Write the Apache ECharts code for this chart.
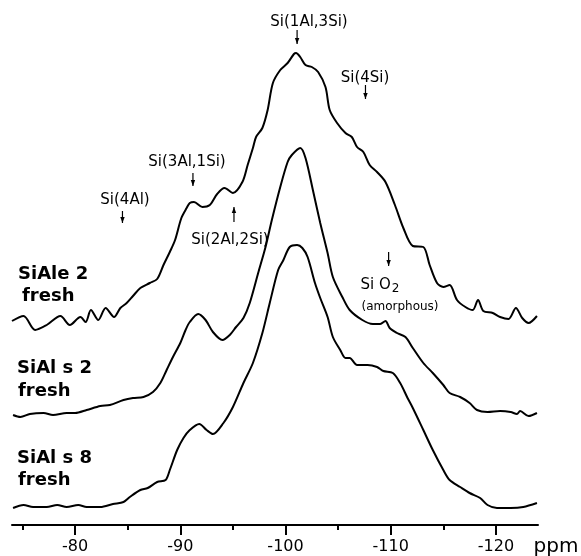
<!DOCTYPE html>
<html>
<head>
<meta charset="utf-8">
<script src="https://cdn.jsdelivr.net/npm/echarts@6/dist/echarts.min.js"></script>
<style>
  html, body { margin: 0; padding: 0; background: #fff; }
  #chart { width: 581px; height: 556px; }
</style>
</head>
<body>
<div id="chart"></div>
<script>
// 29Si MAS NMR spectra: [chemical shift (ppm), intensity above the trace's own baseline]
const siale2 = [
  [-74.0, -1], [-75.1, 4], [-76.2, -10], [-77.3, -5], [-78.6, 4], [-79.5, -5],
  [-80.5, 3], [-81.0, -2], [-81.5, 10], [-82.2, 0], [-82.9, 12], [-83.7, 3],
  [-84.3, 12], [-84.9, 17], [-85.5, 24], [-86.2, 32], [-87.1, 37], [-87.8, 41],
  [-88.4, 55], [-89.0, 68], [-89.5, 80], [-90.1, 102], [-90.6, 112], [-90.9, 117],
  [-91.3, 118], [-92.1, 113], [-92.8, 115], [-93.5, 126], [-94.2, 132], [-95.0, 127],
  [-95.9, 138], [-96.4, 155], [-96.9, 172], [-97.2, 183], [-97.8, 192], [-98.3, 210],
  [-98.8, 237], [-99.5, 250], [-100.2, 257], [-100.8, 266], [-101.0, 267], [-101.4, 263],
  [-101.9, 255], [-102.5, 253], [-103.1, 248], [-103.8, 233], [-104.2, 210], [-104.9, 197],
  [-105.7, 187], [-106.3, 183], [-106.8, 173], [-107.4, 168], [-108.0, 155], [-108.7, 148],
  [-109.5, 138], [-110.4, 115], [-111.2, 92], [-112.1, 74], [-113.1, 73], [-113.7, 55],
  [-114.4, 37], [-115.0, 33], [-115.6, 35], [-116.3, 20], [-117.1, 13], [-117.8, 10],
  [-118.3, 20], [-118.8, 9], [-119.7, 7], [-120.4, 3], [-121.2, 1], [-121.9, 12],
  [-122.5, 2], [-123.1, -3], [-123.9, 4]
];

const sials2 = [
  [-74.1, -1], [-74.8, -3], [-75.7, 0], [-77.0, 1], [-77.9, -1], [-79.2, 1],
  [-80.0, 1], [-81.1, 4], [-82.4, 8], [-83.3, 9], [-84.6, 14], [-85.5, 16],
  [-86.5, 17], [-87.4, 22], [-88.1, 31], [-88.7, 44], [-89.3, 57], [-90.0, 71],
  [-90.5, 84], [-90.9, 92], [-91.7, 100], [-92.4, 94], [-93.1, 82], [-94.0, 74],
  [-94.7, 79], [-95.3, 87], [-96.0, 96], [-96.6, 111], [-97.4, 141], [-98.1, 167],
  [-98.7, 194], [-99.5, 227], [-100.2, 252], [-100.6, 259], [-101.4, 266], [-101.9, 256],
  [-102.6, 224], [-103.3, 191], [-104.0, 161], [-104.5, 137], [-105.4, 117], [-106.1, 104],
  [-107.3, 94], [-108.3, 90], [-109.0, 90], [-109.5, 93], [-109.9, 86], [-110.6, 81],
  [-111.4, 77], [-112.1, 66], [-113.1, 51], [-114.0, 41], [-115.0, 29], [-115.6, 21],
  [-116.6, 17], [-117.5, 11], [-118.2, 4], [-119.2, 2], [-120.4, 3], [-121.4, 2],
  [-122.0, 0], [-122.3, 3], [-123.1, -2], [-123.9, 1]
];

const sials8 = [
  [-74.1, -1], [-75.1, 2], [-76.0, 0], [-77.3, 0], [-78.3, 2], [-79.2, 0],
  [-80.3, 2], [-81.1, 0], [-82.4, 0], [-83.6, 3], [-84.6, 5], [-85.2, 10],
  [-86.2, 17], [-86.9, 19], [-87.8, 25], [-88.6, 27], [-89.0, 37], [-89.7, 57],
  [-90.3, 69], [-90.9, 77], [-91.8, 83], [-92.5, 77], [-93.1, 73], [-94.1, 84],
  [-95.0, 100], [-96.0, 124], [-96.9, 144], [-97.8, 174], [-98.5, 204], [-99.3, 237],
  [-99.8, 247], [-100.4, 260], [-101.1, 262], [-101.6, 259], [-102.1, 250], [-102.8, 224],
  [-103.3, 209], [-104.0, 190], [-104.5, 170], [-105.2, 157], [-105.7, 149], [-106.1, 149],
  [-106.8, 142], [-107.8, 142], [-108.7, 140], [-109.3, 136], [-110.2, 134], [-110.9, 124],
  [-111.6, 109], [-112.1, 99], [-113.1, 77], [-114.0, 57], [-115.0, 37], [-115.6, 27],
  [-116.6, 20], [-117.5, 14], [-118.5, 9], [-119.2, 2], [-120.1, -1], [-121.4, -1],
  [-122.6, 0], [-123.9, 4]
];

// axis ticks (ppm)
const majorTicks = [-80, -90, -100, -110, -120];
const minorTicks = [-75, -85, -95, -105, -115];

// peak assignments: label and chemical shift of its arrow
const assignments = [
  { text: 'Si(4Al)', ppm: -84.5 },
  { text: 'Si(3Al,1Si)', ppm: -91.2 },
  { text: 'Si(2Al,2Si)', ppm: -95.1 },
  { text: 'Si(1Al,3Si)', ppm: -101.1 },
  { text: 'Si(4Si)', ppm: -107.6 },
  { text: 'SiO2', ppm: -109.8 }
];

// vertical stacking of the three spectra
const stackOffset = { siale2: 205, sials2: 111, sials8: 18 };

const shift = (arr, off) => arr.map(([p, v]) => [p, v + off]);

const chart = echarts.init(document.getElementById('chart'), null, { renderer: 'canvas' });

const lineStyle = { color: '#000', width: 2 };
const baseSeries = {
  type: 'line', showSymbol: false, smooth: 0.3, lineStyle: lineStyle,
  silent: true, animation: false, xAxisIndex: 0
};

chart.setOption({
  backgroundColor: '#fff',
  animation: false,
  grid: { left: 12, right: 43, top: 25, bottom: 31 },
  xAxis: [
    {
      type: 'value', position: 'bottom', min: -124, max: -74, inverse: true,
      axisLine: { show: true, onZero: false, lineStyle: { color: '#000', width: 2 } },
      axisTick: { show: true, customValues: majorTicks, length: 10, inside: false,
                  lineStyle: { color: '#000', width: 2 } },
      axisLabel: { show: true, customValues: majorTicks, margin: 14, color: '#000',
                   fontSize: 16, fontFamily: 'DejaVu Sans' },
      splitLine: { show: false }
    },
    {
      type: 'value', position: 'bottom', min: -124, max: -74, inverse: true,
      axisLine: { show: false },
      axisTick: { show: true, customValues: minorTicks, length: 5, inside: false,
                  lineStyle: { color: '#000', width: 2 } },
      axisLabel: { show: false },
      splitLine: { show: false }
    }
  ],
  yAxis: { type: 'value', min: 0, max: 500, show: false },
  series: [
    Object.assign({}, baseSeries, { name: 'SiAle 2 fresh', data: shift(siale2, stackOffset.siale2) }),
    Object.assign({}, baseSeries, { name: 'SiAl s 2 fresh', data: shift(sials2, stackOffset.sials2) }),
    Object.assign({}, baseSeries, { name: 'SiAl s 8 fresh', data: shift(sials8, stackOffset.sials8) })
  ]
});

// annotations: label placement and arrow extent (y in px); up = arrow points upward
const labelLayout = {
  'Si(4Al)':     { x: 125, y: 200, arrow: [211, 223], up: false },
  'Si(3Al,1Si)': { x: 187, y: 162, arrow: [173, 186], up: false },
  'Si(2Al,2Si)': { x: 230, y: 240, arrow: [207, 222], up: true },
  'Si(1Al,3Si)': { x: 309, y: 22,  arrow: [30, 44],   up: false },
  'Si(4Si)':     { x: 365, y: 78,  arrow: [85, 99],   up: false },
  'SiO2':        { x: 380, y: 285, arrow: [252, 266], up: false }
};

const annoFont = { fontSize: 15, fontFamily: 'DejaVu Sans', fill: '#000' };
const graphics = [];

assignments.forEach(a => {
  const lay = labelLayout[a.text];
  const ax = chart.convertToPixel({ xAxisIndex: 0 }, a.ppm);
  const [y1, y2] = lay.arrow;
  const tipY = lay.up ? y1 : y2;
  const dir = lay.up ? 1 : -1;
  graphics.push({
    type: 'line', silent: true,
    shape: { x1: ax, y1: y1, x2: ax, y2: y2 },
    style: { stroke: '#000', lineWidth: 1.2 }
  });
  graphics.push({
    type: 'polygon', silent: true,
    shape: { points: [[ax, tipY], [ax - 2.2, tipY + dir * 6], [ax + 2.2, tipY + dir * 6]] },
    style: { fill: '#000' }
  });
  if (a.text === 'SiO2') {
    graphics.push({
      type: 'text', silent: true, x: lay.x, y: lay.y,
      style: {
        text: '{a|Si O}{b|2}', align: 'center', verticalAlign: 'middle',
        rich: {
          a: { fontSize: 15, fontFamily: 'DejaVu Sans', fill: '#000' },
          b: { fontSize: 12, fontFamily: 'DejaVu Sans', fill: '#000', padding: [8, 0, 0, 1] }
        }
      }
    });
    graphics.push({
      type: 'text', silent: true, x: 400, y: 307,
      style: { text: '(amorphous)', fontSize: 12, fontFamily: 'DejaVu Sans', fill: '#000',
               align: 'center', verticalAlign: 'middle' }
    });
  } else {
    graphics.push({
      type: 'text', silent: true, x: lay.x, y: lay.y,
      style: Object.assign({ text: a.text, align: 'center', verticalAlign: 'middle' }, annoFont)
    });
  }
});

// sample names beside each spectrum
const sampleFont = { fontSize: 18, fontWeight: 'bold', fontFamily: 'DejaVu Sans', fill: '#000' };
[
  { text: 'SiAle 2', x: 18, y: 274 }, { text: 'fresh', x: 22, y: 296 },
  { text: 'SiAl s 2', x: 17, y: 368 }, { text: 'fresh', x: 18, y: 391 },
  { text: 'SiAl s 8', x: 17, y: 458 }, { text: 'fresh', x: 18, y: 480 }
].forEach(t => graphics.push({
  type: 'text', silent: true, x: t.x, y: t.y,
  style: Object.assign({ text: t.text, align: 'left', verticalAlign: 'middle' }, sampleFont)
}));

// unit label at the end of the shift axis
graphics.push({
  type: 'text', silent: true, x: 556, y: 547,
  style: { text: 'ppm', fontSize: 20, fontFamily: 'DejaVu Sans', fill: '#000',
           align: 'center', verticalAlign: 'middle' }
});

chart.setOption({ graphic: graphics });
</script>
</body>
</html>
